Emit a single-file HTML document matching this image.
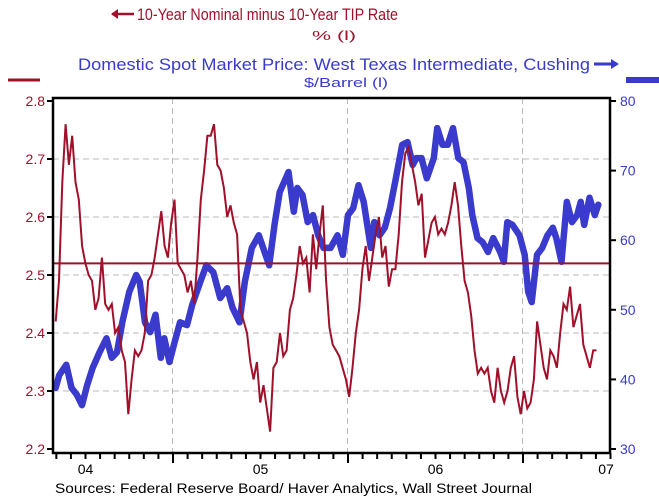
<!DOCTYPE html>
<html><head><meta charset="utf-8"><style>
html,body{margin:0;padding:0;background:#fff;}
svg{display:block;font-family:"Liberation Sans",sans-serif;}
</style></head><body>
<svg id="chart" width="659" height="504" viewBox="0 0 659 504" xmlns="http://www.w3.org/2000/svg">
<g>
<line x1="112" y1="14" x2="134" y2="14" stroke="#a0102a" stroke-width="2.5"/>
<path d="M111 14 l7 -5 v10 z" fill="#a0102a"/>
<text x="137" y="20" font-size="17" fill="#a0102a" textLength="261" lengthAdjust="spacingAndGlyphs">10-Year Nominal minus 10-Year TIP Rate</text>
<text x="334" y="40" font-size="13" fill="#a0102a" text-anchor="middle" textLength="44" lengthAdjust="spacingAndGlyphs">%   (l)</text>
<line x1="8" y1="80" x2="40" y2="80" stroke="#a0102a" stroke-width="3"/>
</g>
<g>
<text x="78" y="70" font-size="17" fill="#3a3acc" textLength="512" lengthAdjust="spacingAndGlyphs">Domestic Spot Market Price: West Texas Intermediate, Cushing</text>
<line x1="594" y1="64" x2="612" y2="64" stroke="#3a3acc" stroke-width="3"/>
<path d="M619 64 l-8 -5 v10 z" fill="#3a3acc"/>
<text x="346" y="87" font-size="13" fill="#3a3acc" text-anchor="middle" textLength="84" lengthAdjust="spacingAndGlyphs">$/Barrel   (l)</text>
<line x1="626" y1="80" x2="659" y2="80" stroke="#3a3acc" stroke-width="6"/>
</g>
<g id="grid"></g>
<g id="series"></g>
<g id="axes"></g>
<text x="55" y="493" font-size="14" fill="#000" textLength="477" lengthAdjust="spacingAndGlyphs">Sources:  Federal Reserve Board/ Haver Analytics, Wall Street Journal</text>
</svg>
<script>
const redStart = 2004.33;
const redEnd = 2007.42;
const redValues = [2.42,2.49,2.66,2.76,2.69,2.74,2.66,2.63,2.55,2.52,2.50,2.49,2.44,2.46,2.53,2.45,2.44,2.45,2.40,2.41,2.37,2.35,2.26,2.32,2.37,2.36,2.37,2.40,2.49,2.50,2.53,2.57,2.61,2.55,2.53,2.59,2.63,2.52,2.51,2.50,2.47,2.49,2.45,2.53,2.63,2.68,2.74,2.74,2.76,2.69,2.68,2.65,2.60,2.62,2.59,2.57,2.44,2.42,2.40,2.35,2.32,2.35,2.28,2.31,2.27,2.23,2.34,2.35,2.40,2.36,2.37,2.44,2.46,2.50,2.55,2.52,2.53,2.47,2.57,2.51,2.57,2.62,2.49,2.41,2.38,2.37,2.36,2.34,2.32,2.29,2.34,2.40,2.44,2.51,2.55,2.49,2.53,2.57,2.60,2.53,2.55,2.48,2.51,2.51,2.57,2.66,2.71,2.72,2.69,2.66,2.62,2.64,2.53,2.56,2.59,2.60,2.57,2.58,2.57,2.59,2.62,2.66,2.62,2.55,2.49,2.47,2.43,2.37,2.33,2.34,2.33,2.34,2.30,2.28,2.34,2.30,2.28,2.30,2.34,2.36,2.29,2.26,2.30,2.27,2.28,2.32,2.42,2.38,2.34,2.32,2.37,2.36,2.34,2.40,2.45,2.44,2.48,2.41,2.43,2.45,2.38,2.36,2.34,2.37,2.37];
const blueDates = [2004.33,2004.35,2004.39,2004.42,2004.45,2004.48,2004.51,2004.54,2004.58,2004.62,2004.65,2004.68,2004.71,2004.75,2004.79,2004.81,2004.84,2004.87,2004.90,2004.93,2004.95,2004.98,2005.01,2005.04,2005.08,2005.11,2005.15,2005.19,2005.23,2005.27,2005.31,2005.34,2005.38,2005.41,2005.45,2005.49,2005.51,2005.55,2005.58,2005.61,2005.66,2005.69,2005.71,2005.74,2005.77,2005.80,2005.83,2005.86,2005.90,2005.94,2005.97,2006.00,2006.03,2006.06,2006.09,2006.13,2006.15,2006.18,2006.21,2006.24,2006.27,2006.31,2006.34,2006.37,2006.39,2006.42,2006.45,2006.49,2006.51,2006.54,2006.57,2006.60,2006.63,2006.66,2006.69,2006.71,2006.74,2006.77,2006.80,2006.83,2006.87,2006.89,2006.91,2006.94,2006.98,2007.01,2007.03,2007.05,2007.08,2007.11,2007.14,2007.17,2007.19,2007.22,2007.25,2007.28,2007.31,2007.33,2007.35,2007.38,2007.41,2007.43];
const blueValues = [38.8,40.6,42.1,38.8,37.8,36.3,39.2,41.6,43.9,45.9,43.1,43.9,48.2,52.6,55.0,54.0,48.2,46.8,49.3,43.1,45.9,42.5,45.4,48.2,47.8,50.7,53.6,56.4,55.4,51.7,53.1,50.3,48.2,54.0,58.9,60.7,59.3,56.4,62.2,66.9,69.8,64.1,67.5,66.5,62.6,63.6,60.7,58.9,58.9,60.7,57.9,63.6,64.6,67.9,65.5,58.9,62.6,60.7,61.8,64.6,68.4,73.7,74.1,70.8,71.8,71.8,68.9,71.8,76.1,73.7,73.7,76.1,71.8,71.2,67.5,63.6,60.3,59.7,58.3,60.3,58.3,56.9,62.6,62.2,60.7,57.9,52.6,51.1,57.9,58.9,60.7,61.8,60.3,56.9,65.5,62.6,63.6,65.5,62.2,66.1,63.6,65.1];
const refValue = 2.52;
const leftTicks = [2.2,2.3,2.4,2.5,2.6,2.7,2.8];
const leftTickLabels = ["2.2","2.3","2.4","2.5","2.6","2.7","2.8"];
const rightTicks = [30,40,50,60,70,80];
const rightTickLabels = ["30","40","50","60","70","80"];
const yearLabels = ["04","05","06","07"];
const yearLabelPos = [2004.5,2005.5,2006.5,2007.5];

const X0=53, X1=610, Y0=101, Y1=449;
const xS = t => 173 + (t-2005)*175;
const yL = v => Y1 - (v-2.2)/0.6*(Y1-Y0);
const yR = v => Y1 - (v-30)/50*(Y1-Y0);
const NS="http://www.w3.org/2000/svg";
function mk(tag, attrs, parent){const e=document.createElementNS(NS,tag);for(const k in attrs)e.setAttribute(k,attrs[k]);parent.appendChild(e);return e;}
const grid=document.getElementById('grid'), series=document.getElementById('series'), axes=document.getElementById('axes');

leftTicks.forEach((v,i)=>{ if(i>0&&i<leftTicks.length-1){const l=mk('line',{x1:X0,x2:X1,y1:yL(v),y2:yL(v),stroke:'#bbb','stroke-width':1,'stroke-dasharray':'6,4'},grid);

}});
[2005,2006,2007].forEach(t=>{const l=mk('line',{x1:xS(t)-0.5,x2:xS(t)-0.5,y1:Y0-3,y2:453,stroke:'#bbb','stroke-width':1,'stroke-dasharray':'6,4'},grid);

});

const bp=blueValues.map((v,i)=>xS(blueDates[i]).toFixed(1)+','+yR(v).toFixed(1)).join(' ');
const blue=mk('polyline',{points:bp,fill:'none',stroke:'#3a3acc','stroke-width':6.5,'stroke-linejoin':'round','stroke-linecap':'round'},series);



const ref=mk('line',{x1:X0,x2:X1,y1:yL(refValue),y2:yL(refValue),stroke:'#a0102a','stroke-width':2},series);



const step=(redEnd-redStart)/(redValues.length-1);
const rp=redValues.map((v,i)=>xS(redStart+i*step).toFixed(1)+','+yL(v).toFixed(1)).join(' ');
const red=mk('polyline',{points:rp,fill:'none',stroke:'#a0102a','stroke-width':2,'stroke-linejoin':'miter'},series);



const frame=mk('rect',{x:X0,y:98,width:X1-X0,height:355,fill:'none',stroke:'#000','stroke-width':2.5},axes);



leftTicks.forEach((v,i)=>{const y=yL(v);
const t=mk('line',{x1:X0-6,x2:X0,y1:y,y2:y,stroke:'#000','stroke-width':2},axes);


if(leftTickLabels[i]){const tx=mk('text',{x:X0-8,y:y+5,'font-size':14,fill:'#a0102a','text-anchor':'end'},axes);tx.textContent=leftTickLabels[i];

}});
rightTicks.forEach((v,i)=>{const y=yR(v);
const t=mk('line',{x1:X1,x2:X1+6,y1:y,y2:y,stroke:'#000','stroke-width':2},axes);


if(rightTickLabels[i]){const tx=mk('text',{x:X1+10,y:y+5,'font-size':14,fill:'#3a3acc'},axes);tx.textContent=rightTickLabels[i];

}});
for(let k=-8;k<=30;k++){const x=xS(2005+k/12);if(x<X0||x>X1+1)continue;const yr=(k%12===0);
const t=mk('line',{x1:x,x2:x,y1:453,y2:yr?463:459,stroke:'#000','stroke-width':2},axes);

}
yearLabels.forEach((s,i)=>{const tx=mk('text',{x:Math.min(xS(yearLabelPos[i]),606),y:474,'font-size':14,fill:'#000','text-anchor':'middle'},axes);tx.textContent=s;

});
</script>
</body></html>
